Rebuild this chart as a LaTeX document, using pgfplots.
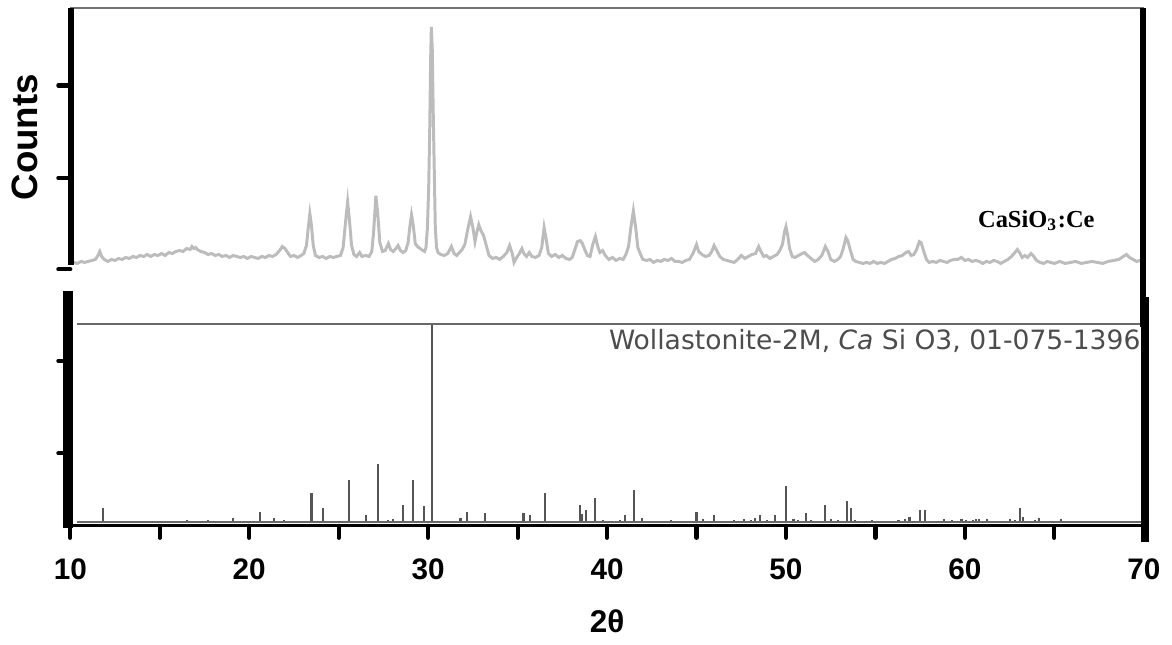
\documentclass[border=0pt]{standalone}
\usepackage{pgfplots}
\usepackage{pgfplotstable}
\pgfplotsset{compat=1.18}
\usepackage{fontspec}
\setmainfont{Liberation Sans}
\newfontfamily\timesb{Liberation Serif}
\newfontfamily\refont{DejaVu Sans}

\definecolor{curvegray}{RGB}{188,188,188}
\definecolor{stickgray}{RGB}{85,85,85}
\definecolor{framegray}{RGB}{105,105,105}

% measured scan, counts in arbitrary units
\pgfplotstableread{
tt cnt
10.0 264
10.2 265
10.4 264
10.6 266
10.8 265
11.0 266
11.2 267
11.4 268
11.55 272
11.65 276
11.75 271
11.9 268
12.1 266
12.3 268
12.5 267
12.7 269
12.9 268
13.1 270
13.3 269
13.5 271
13.7 270
13.9 272
14.1 271
14.3 273
14.5 271
14.7 273
14.9 272
15.1 274
15.3 272
15.5 275
15.7 274
15.9 276
16.1 277
16.3 276
16.5 279
16.7 278
16.8 281
16.9 279
17.0 280
17.1 278
17.3 276
17.5 275
17.7 273
17.9 274
18.1 272
18.3 273
18.5 271
18.7 272
18.9 270
19.1 272
19.3 271
19.5 270
19.7 271
19.9 269
20.1 271
20.3 270
20.5 269
20.7 271
20.9 270
21.1 272
21.3 271
21.5 273
21.7 277
21.85 281
22.0 279
22.15 275
22.3 271
22.5 272
22.7 270
22.9 272
23.05 274
23.2 282
23.3 300
23.39 314
23.48 302
23.58 282
23.7 272
23.9 270
24.1 271
24.3 269
24.5 271
24.7 270
24.9 271
25.1 272
25.25 280
25.38 305
25.5 326
25.6 308
25.72 282
25.85 273
26.0 271
26.17 275
26.3 271
26.5 272
26.7 271
26.85 276
26.95 295
27.08 332
27.18 315
27.3 285
27.45 276
27.6 277
27.78 284
27.9 278
28.05 276
28.2 279
28.32 282
28.45 277
28.6 275
28.75 277
28.88 285
28.97 300
29.07 313
29.17 302
29.28 284
29.4 281
29.55 279
29.7 277
29.8 276
29.88 280
29.96 300
30.03 340
30.09 400
30.14 470
30.18 502
30.23 480
30.28 420
30.34 360
30.4 300
30.47 280
30.55 275
30.7 273
30.9 272
31.1 274
31.3 281
31.45 274
31.6 272
31.75 275
31.9 278
32.05 283
32.2 297
32.37 311
32.5 300
32.62 286
32.72 295
32.83 303
32.95 297
33.1 292
33.25 282
33.4 272
33.6 269
33.8 270
34.0 268
34.2 271
34.4 275
34.55 282
34.7 274
34.8 265
34.95 270
35.1 274
35.24 279
35.35 274
35.5 271
35.65 275
35.8 271
36.0 270
36.2 272
36.35 280
36.48 300
36.6 288
36.72 274
36.9 271
37.1 273
37.3 270
37.5 272
37.7 269
37.9 268
38.05 270
38.2 278
38.35 286
38.5 287
38.62 284
38.75 278
38.9 272
39.05 271
39.2 283
39.35 291
39.48 281
39.6 275
39.75 277
39.9 272
40.1 268
40.3 270
40.5 267
40.7 269
40.9 268
41.05 273
41.2 281
41.33 300
41.47 317
41.6 300
41.72 280
41.85 274
42.0 268
42.2 267
42.4 268
42.6 265
42.8 267
43.0 266
43.2 268
43.4 267
43.6 269
43.8 266
44.0 266
44.2 265
44.4 267
44.6 268
44.8 274
45.0 283
45.12 276
45.3 273
45.5 271
45.7 272
45.85 276
45.98 282
46.1 278
46.3 271
46.5 268
46.7 267
46.9 266
47.1 265
47.3 268
47.5 272
47.7 269
47.9 271
48.1 273
48.3 274
48.47 281
48.6 276
48.75 271
48.9 272
49.1 269
49.3 271
49.5 273
49.65 277
49.8 283
49.92 296
50.0 301
50.1 292
50.2 279
50.35 271
50.5 270
50.7 272
50.9 274
51.03 275
51.2 272
51.4 269
51.6 266
51.8 268
52.0 272
52.2 281
52.35 276
52.5 268
52.7 266
52.9 268
53.05 271
53.2 279
53.35 290
53.45 287
53.6 277
53.75 268
53.9 266
54.1 265
54.3 264
54.5 265
54.7 264
54.9 266
55.1 264
55.3 265
55.5 264
55.7 266
55.9 268
56.1 269
56.3 271
56.5 272
56.7 275
56.85 276
57.0 272
57.15 273
57.3 278
57.45 286
57.55 285
57.7 276
57.85 268
58.0 265
58.2 266
58.4 265
58.6 267
58.8 266
59.0 265
59.2 267
59.4 268
59.6 268
59.8 270
60.0 267
60.2 268
60.4 266
60.6 267
60.8 266
61.0 264
61.2 266
61.4 265
61.6 267
61.8 266
62.0 264
62.2 266
62.4 268
62.6 271
62.75 274
62.93 278
63.05 275
63.2 270
63.35 272
63.5 270
63.7 274
63.85 271
64.0 267
64.2 265
64.4 264
64.6 266
64.8 265
65.0 264
65.3 266
65.6 264
65.9 265
66.2 266
66.5 264
66.8 265
67.1 266
67.4 265
67.7 264
68.0 266
68.3 267
68.6 268
68.85 271
69.03 273
69.2 270
69.4 268
69.6 266
69.8 267
70.0 266
}\scan

% reference pattern 01-075-1396: position, relative height
\pgfplotstableread{
pos h
11.81 14
16.50 2
17.70 2
19.10 3.5
20.60 10
21.40 4
21.96 2
23.48 29
24.13 14
25.56 42
26.52 7
27.18 58
27.74 2
28.03 3
28.57 17
29.14 42
29.78 16
30.20 199
31.81 4
32.18 10
33.17 9
35.33 9
35.67 7
36.53 29
38.48 17
38.60 8
38.81 12
39.35 24
39.78 2
40.70 2
41.00 7
41.53 32
41.96 4
43.57 2
45.00 10
45.37 2.5
45.98 7
47.09 2
47.64 3
48.02 2
48.26 3.5
48.57 7
48.94 2
49.37 7
50.02 36
50.42 3
50.67 2
51.10 9
51.40 2
52.18 17
52.52 3
52.89 2
53.39 21
53.63 14
53.85 2
54.81 2
56.29 2
56.63 3
56.90 5
57.50 12
57.78 12
58.81 3
59.28 2
59.81 3
60.05 2
60.47 2
60.62 3
60.79 3
61.22 3
62.52 3
62.78 2
63.07 14
63.26 5
63.94 2
64.13 3.5
65.37 3
}\sticks

\begin{document}
\begin{tikzpicture}
\begin{axis}[
    width=10.8cm, height=5.21cm, scale only axis,
    xmin=10, xmax=70, ymin=0, ymax=521,
    clip=false,
    axis line style={draw=none},
    xtick={10,20,...,70},
    minor xtick={15,25,...,65},
    ytick={73,166,258,350,443},
    yticklabels={},
    xtick pos=bottom, ytick pos=left,
    tick align=outside,
    major tick length=0.12cm, minor tick length=0.12cm,
    every tick/.style={black, line width=1.2pt, line cap=round},
    xticklabel style={font=\bfseries\fontsize{8.5}{9}\selectfont, yshift=-0.09cm},
    /pgf/number format/assume math mode=true,
]
% sample scan
\addplot[curvegray, line width=0.85pt] table[x=tt, y=cnt] {\scan};
% reference sticks, standing on the baseline at 4
\addplot[draw=none, mark=none,
    error bars/.cd, y dir=minus, y explicit, error mark=none,
    error bar style={draw=stickgray, line width=0.6pt}]
    table[x=pos, y expr=\thisrow{h}+4, y error expr=\thisrow{h}] {\sticks};

% frame of the reference panel
\draw[framegray, line width=0.5pt] (axis cs:10.35,4) -- (axis cs:70,4);
\draw[framegray, line width=0.5pt] (axis cs:10.35,203) -- (axis cs:70,203);
% axis lines
\draw[black!55, line width=0.45pt] (axis cs:10,521) -- (axis cs:70,521);
\draw[black, line width=0.9pt] (axis cs:9.7,0) -- (axis cs:70.2,0);
\draw[black, line width=1.6pt] (axis cs:10.03,521) -- (axis cs:10.03,262);
\draw[black, line width=3.0pt] (axis cs:9.88,236) -- (axis cs:9.88,-2);
\draw[black, line width=1.9pt] (axis cs:69.96,521) -- (axis cs:69.96,200);
\draw[black, line width=2.3pt] (axis cs:70.05,230) -- (axis cs:70.05,-16);

% labels
\node[font=\timesb\bfseries\fontsize{7}{8}\selectfont] at (axis cs:63.99,307) {CaSiO\textsubscript{3}:Ce};
\node[anchor=east, inner sep=0pt, text=black!70, font=\refont\fontsize{7.6}{9}\selectfont]
    at (axis cs:69.85,186) {Wollastonite-2M, \textit{Ca} Si O3, 01-075-1396};
\node[rotate=90, font=\bfseries\fontsize{10.5}{11}\selectfont] at (axis cs:7.46,391) {Counts};
\node[font=\bfseries\fontsize{9}{10}\selectfont] at (axis cs:40,-96) {2θ};

% page size as in the reference
\path (axis cs:6.072,529) rectangle (axis cs:71.18,-105);
\end{axis}
\end{tikzpicture}
\end{document}
